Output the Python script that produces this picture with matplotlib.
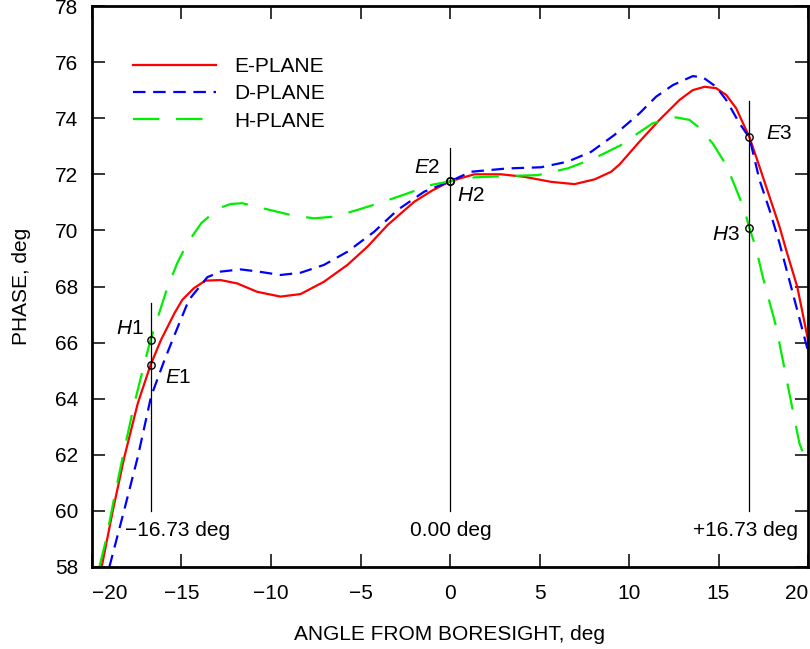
import numpy as np
import matplotlib
matplotlib.use("Agg")
import matplotlib.pyplot as plt

plt.rcParams['font.family'] = ['Liberation Sans', 'DejaVu Sans']
plt.rcParams['mathtext.fontset'] = 'custom'
plt.rcParams['mathtext.rm'] = 'Liberation Sans'
plt.rcParams['mathtext.it'] = 'Liberation Sans:italic'
plt.rcParams['lines.scale_dashes'] = False

# ---------- Data ----------
e_x = [-19.46, -18.84, -18.19, -17.44, -16.73, -16.15, -15.4, -14.96, -14.31, -13.66,
       -12.82, -11.89, -10.77, -9.47, -8.35, -7.04, -5.73, -4.61, -3.49, -2.0,
       -1.0, 0.0, 1.36, 2.86, 4.16, 5.66, 6.96, 8.08, 9.0, 9.47,
       10.58, 11.70, 12.82, 13.56, 14.22, 14.87, 15.43, 15.99, 16.73, 17.29,
       17.85, 18.41, 18.78, 19.4, 20.0]
e_y = [58.0, 60.0, 61.93, 63.84, 65.2, 66.09, 67.04, 67.52, 67.94, 68.21,
       68.23, 68.11, 67.81, 67.64, 67.73, 68.17, 68.77, 69.42, 70.19, 71.02,
       71.42, 71.75, 72.0, 72.0, 71.91, 71.73, 71.65, 71.82, 72.09, 72.35,
       73.16, 73.94, 74.65, 75.0, 75.12, 75.07, 74.83, 74.35, 73.32, 72.27,
       71.2, 70.13, 69.3, 67.99, 66.1]

d_x = [-19.03, -18.2, -17.44, -16.7, -15.95, -15.2, -14.59, -13.56, -12.82, -11.7,
       -10.68, -9.47, -8.35, -7.04, -5.73, -4.24, -2.93, -1.44, 0.0, 1.17,
       3.22, 5.08, 6.57, 7.88, 9.18, 10.58, 11.52, 12.45, 13.56, 14.12,
       14.87, 15.43, 16.17, 16.73, 17.29, 17.85, 18.41, 19.15, 20.0]
d_y = [58.0, 60.03, 61.93, 64.08, 65.38, 66.57, 67.52, 68.33, 68.53, 68.61,
       68.53, 68.41, 68.49, 68.77, 69.24, 69.95, 70.73, 71.38, 71.75, 72.09,
       72.21, 72.25, 72.45, 72.8, 73.4, 74.17, 74.77, 75.18, 75.5, 75.46,
       75.12, 74.65, 73.82, 73.3, 71.8, 70.73, 69.54, 67.76, 65.7]

h_x = [-19.59, -19.22, -18.75, -18.2, -17.63, -17.07, -16.73, -15.8, -15.24, -14.68,
       -13.88, -12.91, -12.26, -11.61, -10.2, -8.9, -7.6, -6.48, -5.17, -3.87,
       -2.37, -1.06, 0.0, 1.36, 3.22, 4.9, 6.57, 8.06, 9.55, 10.21,
       11.33, 12.63, 13.38, 13.84, 14.68, 15.43, 15.89, 16.45, 16.73, 17.1,
       17.47, 18.22, 18.96, 19.52, 20.0]
h_y = [58.0, 58.96, 60.5, 62.17, 63.84, 65.26, 66.1, 67.94, 68.83, 69.54,
       70.27, 70.79, 70.94, 70.97, 70.75, 70.55, 70.43, 70.49, 70.73, 70.99,
       71.32, 71.62, 71.75, 71.89, 71.94, 71.97, 72.21, 72.57, 73.04, 73.34,
       73.82, 74.03, 73.94, 73.7, 73.1, 72.33, 71.62, 70.73, 70.08, 69.36,
       68.35, 66.57, 64.19, 62.41, 61.6]

# marker lines: angle, top of line
mark_x = [-16.73, 0.0, 16.73]
mark_top = [67.4, 72.95, 74.6]
mark_text = ["\u221216.73 deg", "0.00 deg", "+16.73 deg"]
mark_text_x = [-15.2, 0.05, 16.5]

# sample points on the curves
pt_names = ["$H$1", "$E$1", "$E$2", "$H$2", "$E$3", "$H$3"]
pt_x = [-16.73, -16.73, 0.0, 0.0, 16.73, 16.73]
pt_y = [66.1, 65.2, 71.75, 71.75, 73.32, 70.08]
lab_x = [-17.88, -15.2, -1.28, 1.17, 18.42, 15.42]
lab_y = [66.52, 64.77, 72.26, 71.23, 73.47, 69.84]

# ---------- Plot ----------
fig = plt.figure(figsize=(8.1, 6.49), dpi=100)
ax = fig.add_axes([92/810, 1 - 567/649, 716/810, 561/649])

ax.plot(e_x, e_y, color='#ff0000', lw=1.6, label='E-PLANE')
ax.plot(d_x, d_y, color='#0000ff', lw=1.6, dashes=(9, 5.5), label='D-PLANE')
ax.plot(h_x, h_y, color='#00ee00', lw=1.6, dashes=(19, 12), label='H-PLANE')

for mx, top, tx, txt in zip(mark_x, mark_top, mark_text_x, mark_text):
    ax.plot([mx, mx], [60.0, top], color='black', lw=0.9)
    ax.text(tx, 59.3, txt, ha='center', va='center', fontsize=15)

ax.plot(pt_x, pt_y, 'o', ms=5.3, mfc='none', mec='black', mew=1.0)
for name, lx, ly in zip(pt_names, lab_x, lab_y):
    ax.text(lx, ly, name, ha='center', va='center', fontsize=15)

ax.set_xlim(-20, 20)
ax.set_ylim(58, 78)
ax.set_xticks(np.arange(-20, 21, 5))
ax.set_yticks(np.arange(58, 79, 2))
ax.tick_params(direction='in', length=9.4, width=1.1, top=True, right=True, labelsize=15)
ax.tick_params(axis='x', pad=12)
ax.tick_params(axis='y', pad=10)
for s in ax.spines.values():
    s.set_linewidth(2.0)

xl = ax.get_xticklabels()
xl[0].set_ha('left')
xl[-1].set_ha('right')

ax.set_xlabel("ANGLE FROM BORESIGHT, deg", fontsize=15, labelpad=16)
ax.set_ylabel("PHASE, deg", fontsize=15, labelpad=17)

ax.legend(loc='upper left', bbox_to_anchor=(0.057, 0.909), frameon=False,
          fontsize=15, handlelength=4.0, handletextpad=0.87, labelspacing=0.4,
          borderpad=0, borderaxespad=0)

fig.savefig("out.png", dpi=100)
